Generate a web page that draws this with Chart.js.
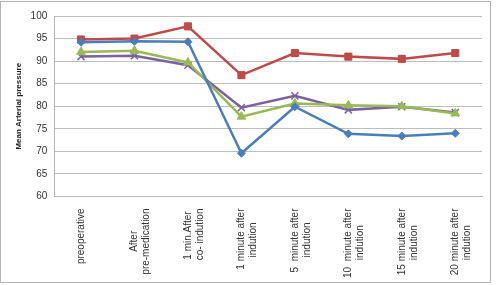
<!DOCTYPE html>
<html>
<head>
<meta charset="utf-8">
<script src="https://cdn.jsdelivr.net/npm/chart.js@4/dist/chart.umd.min.js"></script>
<style>
  html, body { margin: 0; padding: 0; background: #fff; }
  #wrap { width: 498px; height: 285px; }
</style>
</head>
<body>
<div id="wrap"><canvas id="lineChart" width="498" height="285"></canvas></div>
<script>
const categories = [
  ['preoperative'],
  ['After', 'pre-medication'],
  ['1 min.After', 'co- indution'],
  ['1 minute after', 'indution'],
  ['5  minute after', 'indution'],
  ['10  minute after', 'indution'],
  ['15 minute after', 'indution'],
  ['20 minute after', 'indution'],
];
const blueValues = [94.2, 94.4, 94.3, 69.6, 79.9, 73.9, 73.4, 74.0];
const redValues = [94.8, 95.0, 97.7, 86.9, 91.8, 91.0, 90.5, 91.8];
const greenValues = [92.0, 92.3, 89.7, 77.7, 80.6, 80.2, 80.0, 78.4];
const purpleValues = [91.0, 91.2, 89.1, 79.7, 82.3, 79.2, 79.9, 78.6];
const yTicks = [60, 65, 70, 75, 80, 85, 90, 95, 100];

const fontFamily = '"Liberation Sans", Arial, sans-serif';
const labelFont = '10px ' + fontFamily;

// pad short lines so every line of a label sits centred
const measure = document.createElement('canvas').getContext('2d');
measure.font = labelFont;
const spaceW = measure.measureText(' ').width;
const centredLabels = categories.map((lines) => {
  const widths = lines.map((l) => measure.measureText(l).width);
  const maxW = Math.max(...widths);
  return lines.map((l, i) => l + ' '.repeat(Math.round((maxW - widths[i]) / 2 / spaceW)));
});

const frame = {
  id: 'frame',
  beforeDraw(chart) {
    const c = chart.ctx;
    c.save();
    c.fillStyle = '#fff';
    c.fillRect(0, 0, chart.width, chart.height);
    c.strokeStyle = '#b4b4b4';
    c.lineWidth = 1;
    c.strokeRect(0.5, 1.5, 490, 281);
    c.restore();
  },
};

const makeSet = (data, color, style, radius) => ({
  data: data,
  borderColor: color,
  backgroundColor: color,
  borderWidth: 2.5,
  pointStyle: style,
  pointRadius: radius,
  pointBorderWidth: style === 'crossRot' ? 1.5 : 1,
  pointBorderColor: color,
  tension: 0,
  fill: false,
});

new Chart(document.getElementById('lineChart'), {
  type: 'line',
  data: {
    labels: centredLabels,
    datasets: [
      makeSet(blueValues, '#4a7ebb', 'rectRot', 4),
      makeSet(redValues, '#be4b48', 'rect', 5),
      makeSet(greenValues, '#98b954', 'triangle', 5),
      makeSet(purpleValues, '#7d60a0', 'crossRot', 5),
    ],
  },
  options: {
    responsive: false,
    animation: false,
    layout: { padding: { left: 14, right: 16, top: 16, bottom: 3 } },
    plugins: { legend: { display: false }, tooltip: { enabled: false } },
    scales: {
      x: {
        offset: true,
        grid: { display: false },
        border: { display: true, color: '#b4b4b4' },
        ticks: {
          color: '#333',
          font: { family: fontFamily, size: 10 },
          minRotation: 90,
          maxRotation: 90,
          autoSkip: false,
          padding: 4,
        },
      },
      y: {
        min: 60,
        max: 100,
        afterBuildTicks: (axis) => { axis.ticks = yTicks.map((v) => ({ value: v })); },
        grid: { color: '#bdbdbd', drawTicks: false },
        border: { display: true, color: '#b4b4b4' },
        ticks: {
          color: '#333',
          font: { family: fontFamily, size: 10 },
          padding: 7,
        },
        title: {
          display: true,
          text: 'Mean Arterial pressure',
          color: '#222',
          font: { family: fontFamily, size: 8, weight: 'bold' },
          padding: { top: 0, bottom: 0 },
        },
      },
    },
  },
  plugins: [frame],
});
</script>
</body>
</html>
